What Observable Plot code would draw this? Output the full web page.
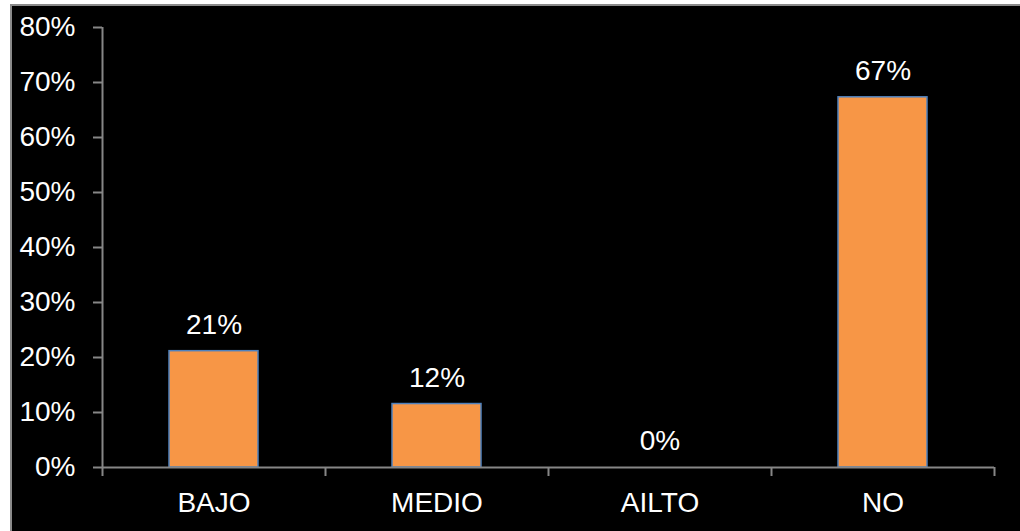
<!DOCTYPE html>
<html>
<head>
<meta charset="utf-8">
<script src="https://cdn.jsdelivr.net/npm/d3@7"></script>
<script src="https://cdn.jsdelivr.net/npm/@observablehq/plot@0.6"></script>
<style>
  html, body { margin: 0; padding: 0; background: #fff; }
  #frame {
    position: absolute;
    left: 10px; top: 4px;
    width: 1008px; height: 525px;
    border-left: 2px solid #8a8a8a;
    border-top: 2px solid #8a8a8a;
    background: #000;
    overflow: hidden;
  }
  #frame svg { display: block; }
</style>
</head>
<body>
<div id="frame"></div>
<script>
// Categories and their shares of responses
const categories = ["BAJO", "MEDIO", "AILTO", "NO"];
const shares = [0.2115, 0.1154, 0, 0.6731];
const yTicks = [0, 0.1, 0.2, 0.3, 0.4, 0.5, 0.6, 0.7, 0.8];

const rows = categories.map((c, i) => ({ i, category: c, value: shares[i] }));
const pct = d3.format(".0%");
const axisGray = "#868686";

const chart = Plot.plot({
  width: 1008,
  height: 525,
  marginLeft: 90,
  marginRight: 26,
  marginTop: 21,
  marginBottom: 64,
  style: {
    background: "#000",
    color: "#fff",
    fontFamily: "'Liberation Sans', Arial, sans-serif",
    fontSize: "28px",
    overflow: "visible"
  },
  x: { domain: [0, categories.length], axis: null },
  y: { domain: [0, 0.8], axis: null },
  marks: [
    // orange columns, one per category slot
    Plot.rectY(rows, {
      filter: d => d.value > 0,
      x1: d => d.i,
      x2: d => d.i + 1,
      y1: 0,
      y2: "value",
      insetLeft: 67,
      insetRight: 67,
      fill: "#F79646",
      stroke: "#4F81BD",
      strokeWidth: 1.5
    }),
    // value labels above each column
    Plot.text(rows, {
      x: d => d.i + 0.5,
      y: "value",
      text: d => pct(d.value),
      lineAnchor: "bottom",
      dy: -17.5,
      fill: "#fff",
      fontSize: 28
    }),
    // axis lines
    Plot.ruleY([0], { stroke: axisGray, strokeWidth: 2 }),
    Plot.ruleX([0], { stroke: axisGray, strokeWidth: 2 }),
    // y axis ticks and percentage labels
    Plot.axisY({
      ticks: yTicks,
      tickFormat: pct,
      tickSize: 9,
      tickPadding: 18,
      stroke: axisGray,
      strokeWidth: 2,
      fill: "#fff",
      fontSize: 28,
      label: null
    }),
    // tick marks on category boundaries
    Plot.axisX({
      ticks: d3.range(categories.length + 1),
      tickFormat: () => "",
      tickSize: 9,
      stroke: axisGray,
      strokeWidth: 2,
      label: null
    }),
    // category names centred in each slot
    Plot.axisX({
      ticks: categories.map((c, i) => i + 0.5),
      tickFormat: d => categories[Math.floor(d)],
      tickSize: 0,
      tickPadding: 25,
      fill: "#fff",
      fontSize: 28,
      label: null
    })
  ]
});

document.getElementById("frame").appendChild(chart);
</script>
</body>
</html>
